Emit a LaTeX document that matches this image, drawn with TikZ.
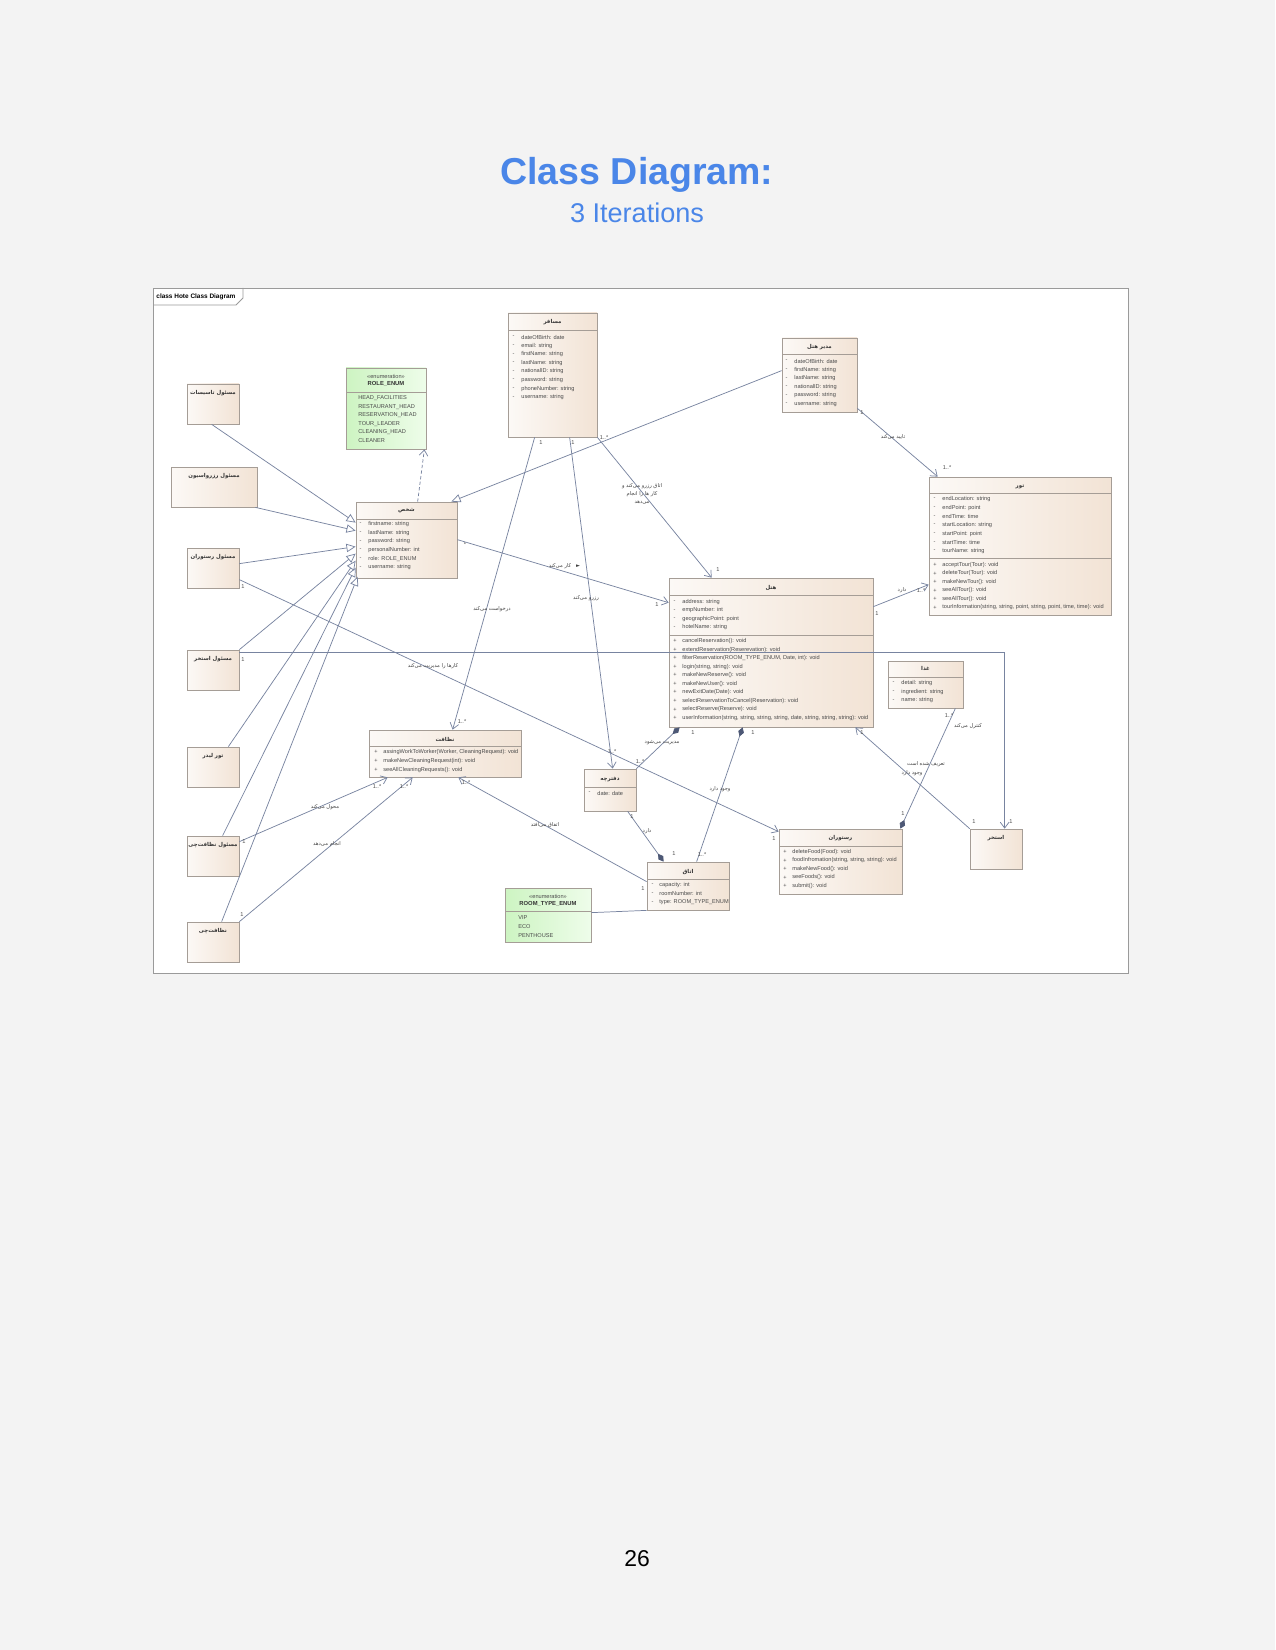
\documentclass[tikz,border=0pt]{standalone}
\usepackage{fontspec}
\setmainfont{Liberation Sans}
\newfontfamily\farsi[Script=Arabic]{DejaVu Sans}
\TeXXeTstate=1
\usepackage{xcolor}
\usetikzlibrary{arrows.meta, positioning, fit, shadows}

\definecolor{headblue}{HTML}{4A86E8}
\definecolor{pagegray}{HTML}{F3F3F3}
\definecolor{framegray}{HTML}{9A9A9A}
\definecolor{linkgray}{HTML}{7884A0}
\definecolor{boxgray}{HTML}{A59D96}
\definecolor{clsleft}{HTML}{FCF9F6}
\definecolor{clsright}{HTML}{F2E3D5}
\definecolor{enumleft}{HTML}{CDF4C2}
\definecolor{enumright}{HTML}{EEFDEA}
\definecolor{diamondblue}{HTML}{4D5875}
\definecolor{membertext}{HTML}{4A4A4A}

\begin{document}
\begin{tikzpicture}[x=0.48pt, y=-0.48pt,
    cls/.style={draw=boxgray, line width=0.35pt, inner sep=0pt, left color=clsleft, right color=clsright,
        drop shadow={shadow xshift=0.5pt, shadow yshift=-0.5pt, opacity=0.3}},
    enum/.style={cls, left color=enumleft, right color=enumright},
    ttl/.style={font=\farsi\bfseries\fontsize{2.6}{3.2}\selectfont, text=black!80, inner sep=0pt},
    ettl/.style={font=\bfseries\fontsize{2.8}{3.4}\selectfont, text=black!80, inner sep=0pt},
    mem/.style={font=\fontsize{2.7}{3.3}\selectfont, text=membertext, inner sep=0pt, anchor=west},
    lbl/.style={font=\farsi\fontsize{2.5}{3.7}\selectfont, text=black!75, inner sep=0pt, align=center},
    mult/.style={font=\fontsize{2.7}{3.3}\selectfont, text=black!70, inner sep=0pt},
    sep/.style={draw=boxgray, line width=0.3pt},
    link/.style={draw=linkgray, line width=0.35pt},
    gen/.style={link, -{Triangle[open, length=4.4pt, width=4pt]}},
    assoc/.style={link, -{Straight Barb[length=2.8pt, width=4.2pt]}},
    dep/.style={assoc, dash pattern=on 1.6pt off 1.1pt},
    comp/.style={link, {Diamond[length=4.6pt, width=2.8pt, fill=diamondblue, color=diamondblue]}-},
    compend/.style={link, -{Diamond[length=4.6pt, width=2.8pt, fill=diamondblue, color=diamondblue]}}
]

    \useasboundingbox (0,0) rectangle (1275,1650);
    \fill[pagegray] (0,0) rectangle (1275,1650);

    % Page heading and number
    \node[anchor=base, font=\bfseries\fontsize{18}{22}\selectfont, text=headblue] (heading) at (637,185) {Class Diagram:};
    \node[anchor=base, font=\fontsize{13}{16}\selectfont, text=headblue] (subheading) at (637,223) {3 Iterations};
    \node[anchor=base, font=\fontsize{11}{13}\selectfont] (pagenum) at (637,1566) {26};

    % Diagram frame
    \node[draw=framegray, fill=white, line width=0.4pt, inner sep=0pt, fit={(153,288) (1128,973)}] (frame) {};
    \draw[framegray, line width=0.4pt] (153,305) -- (236,305) -- (243,298) -- (243,288);
    \node[anchor=west, font=\bfseries\fontsize{3.1}{3.6}\selectfont, inner sep=0pt] (framename) at (156,296.5) {class Hote Class Diagram};

    % Actors on the left
    \foreach \nm/\yt/\actor in {tasisat/384/مسئول تاسیسات, restHead/548/مسئول رستوران, poolHead/650/مسئول استخر,
        tourLeader/747/تور لیدر, cleanHead/836/مسئول نظافت‌چی, cleaner/922/نظافت‌چی} {
        \node[cls, fit={(187,\yt) (239,\yt+40)}] (\nm) {};
        \node[ttl] (\nm-t) at (213,\yt+9.5) {\beginR\actor\endR};
    }
    \node[cls, fit={(171,467) (257,507)}] (rezervasion) {};
    \node[ttl] (rezervasion-t) at (214,476) {\beginR مسئول رزرواسیون\endR};

    % ROLE_ENUM
    \node[enum, fit={(346,368) (426,449)}] (roleEnum) {};
    \node[mult] (roleEnum-s) at (386,376) {«enumeration»};
    \node[ettl] (roleEnum-t) at (386,384) {ROLE\_ENUM};
    \draw[sep] (346,392) -- (426,392);
    \foreach \member [count=\i from 0] in {HEAD\_FACILITIES, RESTAURANT\_HEAD, RESERVATION\_HEAD, TOUR\_LEADER, CLEANING\_HEAD, CLEANER}
        \node[mem] (roleEnum-a\i) at (358,398+8.6*\i) {\member};

    % Person
    \node[cls, fit={(356,502) (457,578)}] (person) {};
    \node[ttl] (person-t) at (406.5,511) {\beginR شخص\endR};
    \draw[sep] (356,519) -- (457,519);
    \foreach \member [count=\i from 0] in {firstname: string, lastName: string, password: string, personalNumber: int, role: ROLE\_ENUM, username: string} {
        \node[mem] (person-s\i) at (359,524+8.7*\i) {-};
        \node[mem] (person-a\i) at (368,524+8.7*\i) {\member};
    }

    % Passenger
    \node[cls, fit={(508,313) (597,437)}] (passenger) {};
    \node[ttl] (passenger-t) at (552.5,322) {\beginR مسافر\endR};
    \draw[sep] (508,330) -- (597,330);
    \foreach \member [count=\i from 0] in {dateOfBirth: date, email: string, firstName: string, lastName: string, nationalID: string, password: string, phoneNumber: string, username: string} {
        \node[mem] (passenger-s\i) at (512,337+8.6*\i) {-};
        \node[mem] (passenger-a\i) at (521,337+8.6*\i) {\member};
    }

    % Hotel manager
    \node[cls, fit={(782,338) (857,412)}] (manager) {};
    \node[ttl] (manager-t) at (819.5,347) {\beginR مدیر هتل\endR};
    \draw[sep] (782,354) -- (857,354);
    \foreach \member [count=\i from 0] in {dateOfBirth: date, firstName: string, lastName: string, nationalID: string, password: string, username: string} {
        \node[mem] (manager-s\i) at (785,361+8.6*\i) {-};
        \node[mem] (manager-a\i) at (794,361+8.6*\i) {\member};
    }

    % Tour
    \node[cls, fit={(929,477) (1111,615)}] (tour) {};
    \node[ttl] (tour-t) at (1020,487) {\beginR تور\endR};
    \draw[sep] (929,493) -- (1111,493);
    \draw[sep] (929,558) -- (1111,558);
    \foreach \member [count=\i from 0] in {endLocation: string, endPoint: point, endTime: time, startLocation: string, startPoint: point, startTime: time, tourName: string} {
        \node[mem] (tour-s\i) at (933,499+8.65*\i) {-};
        \node[mem] (tour-a\i) at (942,499+8.65*\i) {\member};
    }
    \foreach \member [count=\i from 0] in {acceptTour(Tour): void, deleteTour(Tour): void, makeNewTour(): void, seeAllTour(): void, seeAllTour(): void,
        {tourInformation(string, string, point, string, point, time, time): void}} {
        \node[mem] (tour-p\i) at (933,565+8.5*\i) {+};
        \node[mem] (tour-m\i) at (942,565+8.5*\i) {\member};
    }

    % Hotel
    \node[cls, fit={(669,578) (873,727)}] (hotel) {};
    \node[ttl] (hotel-t) at (771,588) {\beginR هتل\endR};
    \draw[sep] (669,595) -- (873,595);
    \draw[sep] (669,635) -- (873,635);
    \foreach \member [count=\i from 0] in {address: string, empNumber: int, geographicPoint: point, hotelName: string} {
        \node[mem] (hotel-s\i) at (673,602+8.4*\i) {-};
        \node[mem] (hotel-a\i) at (682,602+8.4*\i) {\member};
    }
    \foreach \member [count=\i from 0] in {cancelReservation(): void, extendReservation(Reserevation): void,
        {filterReservation(ROOM\_TYPE\_ENUM, Date, int): void}, {login(string, string): void}, makeNewReserve(): void,
        makeNewUser(): void, newExitDate(Date): void, selectReservationToCancel(Reservation): void, selectReserve(Reserve): void,
        {userInformation(string, string, string, string, date, string, string, string): void}} {
        \node[mem] (hotel-p\i) at (673,641+8.56*\i) {+};
        \node[mem] (hotel-m\i) at (682,641+8.56*\i) {\member};
    }

    % Food
    \node[cls, fit={(888,661) (963,708)}] (food) {};
    \node[ttl] (food-t) at (925.5,669) {\beginR غذا\endR};
    \draw[sep] (888,677) -- (963,677);
    \foreach \member [count=\i from 0] in {detail: string, ingredient: string, name: string} {
        \node[mem] (food-s\i) at (892,683+8.7*\i) {-};
        \node[mem] (food-a\i) at (901,683+8.7*\i) {\member};
    }

    % Cleaning
    \node[cls, fit={(369,730) (521,777)}] (cleaning) {};
    \node[ttl] (cleaning-t) at (445,739) {\beginR نظافت\endR};
    \draw[sep] (369,746) -- (521,746);
    \foreach \member [count=\i from 0] in {{assingWorkToWorker(Worker, CleaningRequest): void}, makeNewCleaningRequest(int): void, seeAllCleaningRequests(): void} {
        \node[mem] (cleaning-p\i) at (374,752+8.8*\i) {+};
        \node[mem] (cleaning-m\i) at (383,752+8.8*\i) {\member};
    }

    % Booking
    \node[cls, fit={(584,769) (636,811)}] (booking) {};
    \node[ttl] (booking-t) at (610,779) {\beginR دفترچه\endR};
    \draw[sep] (584,787) -- (636,787);
    \node[mem] (booking-s0) at (588,793) {-};
    \node[mem] (booking-a0) at (597,793) {date: date};

    % Room
    \node[cls, fit={(647,862) (729,910)}] (room) {};
    \node[ttl] (room-t) at (688,872) {\beginR اتاق\endR};
    \draw[sep] (647,879) -- (729,879);
    \foreach \member [count=\i from 0] in {capacity: int, roomNumber: int, type: ROOM\_TYPE\_ENUM} {
        \node[mem] (room-s\i) at (651,885+8.8*\i) {-};
        \node[mem] (room-a\i) at (659,885+8.8*\i) {\member};
    }

    % ROOM_TYPE_ENUM
    \node[enum, fit={(505,888) (591,942)}] (roomEnum) {};
    \node[mult] (roomEnum-s) at (548,896) {«enumeration»};
    \node[ettl] (roomEnum-t) at (548,904) {ROOM\_TYPE\_ENUM};
    \draw[sep] (505,911) -- (591,911);
    \foreach \member [count=\i from 0] in {VIP, ECO, PENTHOUSE}
        \node[mem] (roomEnum-a\i) at (518,918+8.6*\i) {\member};

    % Restaurant
    \node[cls, fit={(779,829) (902,894)}] (restaurant) {};
    \node[ttl] (restaurant-t) at (840.5,838) {\beginR رستوران\endR};
    \draw[sep] (779,846) -- (902,846);
    \foreach \member [count=\i from 0] in {deleteFood(Food): void, {foodInfromation(string, string, string): void}, makeNewFood(): void, seeFoods(): void, submit(): void} {
        \node[mem] (restaurant-p\i) at (783,852+8.5*\i) {+};
        \node[mem] (restaurant-m\i) at (792,852+8.5*\i) {\member};
    }

    % Pool
    \node[cls, fit={(970,829) (1022,869)}] (pool) {};
    \node[ttl] (pool-t) at (996,838) {\beginR استخر\endR};

    % Generalizations to person
    \draw[gen] ([shift={(25,0)}]tasisat.south west) -- ([shift={(0,21)}]person.north west);
    \draw[gen] ([shift={(-2,0)}]rezervasion.south east) -- ([shift={(0,29)}]person.north west);
    \draw[gen] ([shift={(0,16)}]restHead.north east) -- ([shift={(0,45)}]person.north west);
    \draw[gen] (poolHead.north east) -- ([shift={(0,52)}]person.north west);
    \draw[gen] ([shift={(-11,0)}]tourLeader.north east) -- ([shift={(0,59)}]person.north west);
    \draw[gen] ([shift={(36,0)}]cleanHead.north west) -- ([shift={(0,66)}]person.north west);
    \draw[gen] ([shift={(35,0)}]cleaner.north west) -- ([shift={(2,75)}]person.north west);
    \draw[gen] ([shift={(0,33)}]manager.north west) -- ([shift={(-6,0)}]person.north east);
    \draw[dep] ([shift={(62,0)}]person.north west) -- ([shift={(-2,0)}]roleEnum.south east);

    % Associations
    \draw[assoc] ([shift={(0,-4)}]manager.south east) -- ([shift={(9,0)}]tour.north west);
    \node[lbl] (approve) at (893,437) {\beginR تایید می‌کند\endR};
    \node[mult] (approve-a) at (862,413) {1};
    \node[mult] (approve-b) at (947,468) {1..*};

    \draw[assoc] ([shift={(0,29)}]hotel.north east) -- ([shift={(0,108)}]tour.north west);
    \node[lbl] (hasTour) at (902,590) {\beginR دارد\endR};
    \node[mult] (hasTour-a) at (877,614) {1};
    \node[mult] (hasTour-b) at (921,591) {1..*};

    \draw[assoc] (passenger.south east) -- ([shift={(43,0)}]hotel.north west);
    \node[lbl] (books) at (642,494) {\beginR اتاق رزرو می‌کند و\endR\\\beginR کار ها را انجام\endR\\\beginR می‌دهد\endR};
    \node[mult] (books-a) at (604,438) {1..*};
    \node[mult] (books-b) at (718,570) {1};

    \draw[assoc] ([shift={(0,38)}]person.north east) -- ([shift={(0,25)}]hotel.north west);
    \node[lbl] (works) at (560,566) {\beginR کار می‌کند\endR};
    \node[lbl] (works-dir) at (578,566) {►};
    \node[mult] (works-a) at (465,545) {*};
    \node[mult] (works-b) at (657,605) {1};

    \draw[assoc] ([shift={(62,0)}]passenger.south west) -- ([shift={(29,0)}]booking.north west);
    \node[lbl] (reserves) at (586,598) {\beginR رزرو می‌کند\endR};
    \node[mult] (reserves-a) at (573,443) {1};
    \node[mult] (reserves-b) at (612,752) {1..*};

    \draw[assoc] ([shift={(27,0)}]passenger.south west) -- ([shift={(84,0)}]cleaning.north west);
    \node[lbl] (requests) at (492,609) {\beginR درخواست می‌کند\endR};
    \node[mult] (requests-a) at (541,443) {1};
    \node[mult] (requests-b) at (462,722) {1..*};

    \draw[assoc] ([shift={(0,32)}]restHead.north east) -- ([shift={(0,3)}]restaurant.north west);
    \node[lbl] (manages) at (433,666) {\beginR کارها را مدیریت می‌کند\endR};
    \node[mult] (manages-a) at (243,587) {1};
    \node[mult] (manages-b) at (774,839) {1};

    \draw[comp] ([shift={(74,0)}]hotel.south west) -- ([shift={(50,0)}]room.north west);
    \node[lbl] (exists) at (720,789) {\beginR وجود دارد\endR};
    \node[mult] (exists-a) at (753,733) {1};
    \node[mult] (exists-b) at (702,855) {1..*};

    \draw[comp] ([shift={(11,0)}]hotel.south west) -- (booking.north east);
    \node[lbl] (managed) at (662,743) {\beginR مدیریت می‌شود\endR};
    \node[mult] (managed-a) at (693,733) {1};
    \node[mult] (managed-b) at (640,762) {1..*};

    \draw[compend] ([shift={(44,0)}]booking.south west) -- ([shift={(17,0)}]room.north west);
    \node[lbl] (hasRoom) at (647,831) {\beginR دارد\endR};
    \node[mult] (hasRoom-a) at (632,817) {1};
    \node[mult] (hasRoom-b) at (674,854) {1};

    \draw[assoc] ([shift={(0,20)}]room.north west) -- ([shift={(-63,0)}]cleaning.south east);
    \node[lbl] (happens) at (545,825) {\beginR اتفاق می‌افتد\endR};
    \node[mult] (happens-a) at (643,889) {1};
    \node[mult] (happens-b) at (466,783) {1..*};

    \draw[link] ([shift={(0,25)}]roomEnum.north east) -- (room.south west);

    \draw[assoc] ([shift={(0,6)}]cleanHead.north east) -- ([shift={(19,0)}]cleaning.south west);
    \node[lbl] (assigns) at (325,807) {\beginR محول می‌کند\endR};
    \node[mult] (assigns-a) at (244,842) {1};
    \node[mult] (assigns-b) at (377,787) {1..*};

    \draw[assoc] (cleaner.north east) -- ([shift={(44,0)}]cleaning.south west);
    \node[lbl] (does) at (327,844) {\beginR انجام می‌دهد\endR};
    \node[mult] (does-a) at (242,915) {1};
    \node[mult] (does-b) at (404,787) {1..*};

    \draw[assoc] ([shift={(0,3)}]poolHead.north east) -| ([shift={(35,0)}]pool.north west);
    \node[mult] (poolLink-a) at (243,660) {1};
    \node[mult] (poolLink-b) at (1011,822) {1};

    \draw[comp] ([shift={(-2,0)}]restaurant.north east) -- ([shift={(-8,0)}]food.south east);
    \node[lbl] (controls) at (968,726) {\beginR کنترل می‌کند\endR};
    \node[mult] (controls-a) at (903,814) {1};
    \node[mult] (controls-b) at (949,716) {1..*};

    \draw[assoc] (pool.north west) -- ([shift={(-18,0)}]hotel.south east);
    \node[lbl] (defined) at (926,764) {\beginR تعریف شده است\endR};
    \node[lbl] (present) at (912,773) {\beginR وجود دارد\endR};
    \node[mult] (defined-a) at (862,733) {1};
    \node[mult] (defined-b) at (974,822) {1};

\end{tikzpicture}
\end{document}
